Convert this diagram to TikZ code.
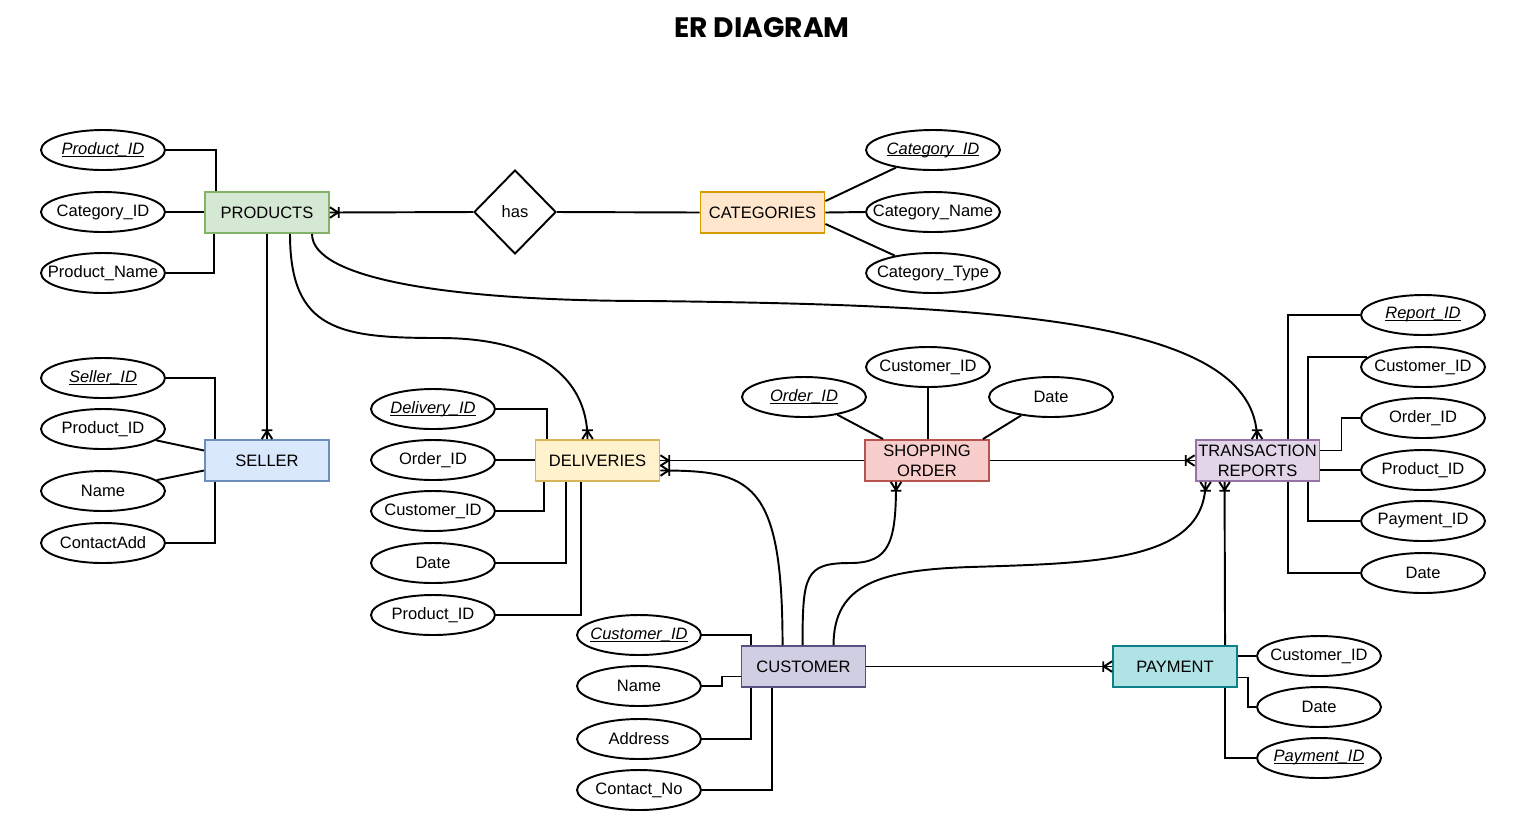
\documentclass[tikz,border=0pt]{standalone}
\usepackage{fontspec}
\setmainfont{Liberation Sans}
\newfontfamily\titlefont{Poppins}
\usetikzlibrary{shapes.geometric,calc}
\definecolor{gF}{HTML}{D5E8D4}\definecolor{gD}{HTML}{82B366}
\definecolor{oF}{HTML}{FFE6CC}\definecolor{oD}{HTML}{D79B00}
\definecolor{bF}{HTML}{DAE8FC}\definecolor{bD}{HTML}{6C8EBF}
\definecolor{yF}{HTML}{FFF2CC}\definecolor{yD}{HTML}{D6B656}
\definecolor{rF}{HTML}{F8CECC}\definecolor{rD}{HTML}{B85450}
\definecolor{pF}{HTML}{E1D5E7}\definecolor{pD}{HTML}{9673A6}
\definecolor{cF}{HTML}{D0CEE2}\definecolor{cD}{HTML}{56517E}
\definecolor{tF}{HTML}{B0E3E6}\definecolor{tD}{HTML}{0E8088}
\pgfdeclarearrow{
  name = ERmany,
  setup code = {
    \pgfarrowssettipend{0pt}
    \pgfarrowssetlineend{0pt}
    \pgfarrowssetbackend{-5pt}
    \pgfarrowssetvisualbackend{-5pt}
    \pgfarrowshullpoint{0pt}{3pt}
    \pgfarrowshullpoint{0pt}{-3pt}
    \pgfarrowshullpoint{-5pt}{0pt}
  },
  drawing code = {
    \pgfsetdash{}{0pt}
    \pgfsetmiterjoin
    \pgfpathmoveto{\pgfqpoint{0pt}{3pt}}
    \pgfpathlineto{\pgfqpoint{-4.6pt}{0pt}}
    \pgfpathlineto{\pgfqpoint{0pt}{-3pt}}
    \pgfpathmoveto{\pgfqpoint{-5pt}{3pt}}
    \pgfpathlineto{\pgfqpoint{-5pt}{-3pt}}
    \pgfusepathqstroke
  }
}
\newcommand{\A}[1]{\makebox[0pt][c]{#1}}
\newcommand{\keyattr}[1]{\makebox[0pt][c]{\itshape\setbox0\hbox{#1}\rlap{\rule[-1.3pt]{\wd0}{0.55pt}}\box0}}
\tikzset{
  ent/.style={draw, line width=1.1pt, minimum width=2.48cm, minimum height=0.82cm,
    inner sep=0pt, align=center, font=\fontsize{9.4}{11.3}\selectfont},
  att/.style={ellipse, draw, line width=1.1pt, fill=white, minimum width=2.48cm,
    minimum height=0.8cm, inner sep=0pt, font=\fontsize{9.4}{11.3}\selectfont},
  rel/.style={diamond, draw, line width=1.1pt, fill=white, minimum width=1.64cm,
    minimum height=1.68cm, inner sep=0pt, font=\fontsize{9.4}{11.3}\selectfont},
  conn/.style={line width=1.1pt},
  many/.style={conn, -ERmany}
}
\begin{document}
\begin{tikzpicture}[x=0.02cm, y=-0.02cm]
\useasboundingbox (0,0) rectangle (1533,823);
\node[font=\titlefont\bfseries\fontsize{16}{18}\selectfont] (title) at (762,28) {ER DIAGRAM};

% entities
\node[ent, fill=gF, draw=gD] (prod) at (267,212.5) {PRODUCTS};
\node[rel] (has) at (515,212) {has};
\node[ent, fill=oF, draw=oD] (cat) at (762.5,212.5) {CATEGORIES};
\node[ent, fill=bF, draw=bD] (sel) at (267,460.5) {SELLER};
\node[ent, fill=yF, draw=yD] (del) at (597.5,460.5) {DELIVERIES};
\node[ent, fill=rF, draw=rD] (so) at (927,460.5) {SHOPPING\\ORDER};
\node[ent, fill=pF, draw=pD] (tr) at (1257.5,460.5) {TRANSACTION\\REPORTS};
\node[ent, fill=cF, draw=cD] (cust) at (803.5,666.5) {CUSTOMER};
\node[ent, fill=tF, draw=tD] (pay) at (1175,666.5) {PAYMENT};

% attributes
\node[att] (p1) at (103,150) {\keyattr{Product\_ID}};
\node[att] (p2) at (103,212) {\A{Category\_ID}};
\node[att] (p3) at (103,273) {\A{Product\_Name}};
\node[att, minimum width=2.68cm] (c1) at (933,150) {\keyattr{Category\_ID}};
\node[att, minimum width=2.68cm] (c2) at (933,212) {\A{Category\_Name}};
\node[att, minimum width=2.68cm] (c3) at (933,273) {\A{Category\_Type}};
\node[att] (s1) at (103,378) {\keyattr{Seller\_ID}};
\node[att] (s2) at (103,429) {\A{Product\_ID}};
\node[att] (s3) at (103,491) {\A{Name}};
\node[att] (s4) at (103,543) {\A{ContactAdd}};
\node[att] (d1) at (433,409) {\keyattr{Delivery\_ID}};
\node[att] (d2) at (433,460) {\A{Order\_ID}};
\node[att] (d3) at (433,511) {\A{Customer\_ID}};
\node[att] (d4) at (433,563) {\A{Date}};
\node[att] (d5) at (433,615) {\A{Product\_ID}};
\node[att] (o1) at (804,397) {\keyattr{Order\_ID}};
\node[att] (o2) at (928,367) {\A{Customer\_ID}};
\node[att] (o3) at (1051,397) {\A{Date}};
\node[att] (t1) at (1423,315) {\keyattr{Report\_ID}};
\node[att] (t2) at (1423,367) {\A{Customer\_ID}};
\node[att] (t3) at (1423,418) {\A{Order\_ID}};
\node[att] (t4) at (1423,470) {\A{Product\_ID}};
\node[att] (t5) at (1423,521) {\A{Payment\_ID}};
\node[att] (t6) at (1423,573) {\A{Date}};
\node[att] (u1) at (639,635) {\keyattr{Customer\_ID}};
\node[att] (u2) at (639,686) {\A{Name}};
\node[att] (u3) at (639,739) {\A{Address}};
\node[att] (u4) at (639,790) {\A{Contact\_No}};
\node[att] (y1) at (1319,656) {\A{Customer\_ID}};
\node[att] (y2) at (1319,707) {\A{Date}};
\node[att] (y3) at (1319,758) {\keyattr{Payment\_ID}};

% attribute links
\draw[conn] (p1.east) -| ($(prod.north west)+(12,0)$);
\draw[conn] (p2.east) -- (p2.east -| prod.west);
\draw[conn] (p3.east) -| ($(prod.south west)+(10,0)$);
\draw[conn] ($(cat.north east)+(0,10)$) -- (c1);
\draw[conn] (cat.east) -- (c2.west);
\draw[conn] ($(cat.south east)+(0,-10)$) -- (c3);
\draw[conn] (s1.east) -| ($(sel.north west)+(11,0)$);
\draw[conn] ($(sel.west)+(0,-10)$) -- (s2);
\draw[conn] ($(sel.west)+(0,10)$) -- (s3);
\draw[conn] (s4.east) -| ($(sel.south west)+(11,0)$);
\draw[conn] (d1.east) -| ($(del.north west)+(12,0)$);
\draw[conn] (d2.east) -- (d2.east -| del.west);
\draw[conn] (d3.east) -| ($(del.south west)+(9,0)$);
\draw[conn] (d4.east) -| ($(del.south west)+(31,0)$);
\draw[conn] (d5.east) -| ($(del.south west)+(46,0)$);
\draw[conn] ($(so.north west)+(19,0)$) -- (o1);
\draw[conn] (o2.south) -- (o2.south |- so.north);
\draw[conn] ($(so.north east)+(-7,0)$) -- (o3);
\draw[conn] ($(tr.north west)+(93,0)$) |- (t1.west);
\draw[conn] ($(tr.north west)+(113,0)$) |- (t2.170);
\draw[conn] ($(tr.east)+(0,-10)$) -- ($(tr.east)+(21,-10)$) |- (t3.west);
\draw[conn] (t4.west) -- (t4.west -| tr.east);
\draw[conn] ($(tr.south west)+(113,0)$) |- (t5.west);
\draw[conn] ($(tr.south west)+(93,0)$) |- (t6.west);
\draw[conn] (u1.east) -| ($(cust.north west)+(10,0)$);
\draw[conn] (u2.east) -- ++(20,0) |- ($(cust.west)+(0,10)$);
\draw[conn] (u3.east) -| ($(cust.south west)+(10,0)$);
\draw[conn] (u4.east) -| ($(cust.south west)+(31,0)$);
\draw[conn] (y1.west) -- (y1.west -| pay.east);
\draw[conn] ($(pay.east)+(0,11)$) -- ++(10,0) |- (y2.west);
\draw[conn] ($(pay.south west)+(113,0)$) |- (y3.west);

% relationships
\draw[many] (has.west) -- (prod.east);
\draw[conn] (has.east) -- (cat.west);
\draw[many] (prod.south) -- (sel.north);
\draw[many] ($(prod.south)+(23,0)$) .. controls +(0,97) and +(-100,0) .. (440,338)
  .. controls +(100,0) and +(0,-60) .. ($(del.north)+(-10,0)$);
\draw[many] ($(prod.south)+(45,0)$) .. controls +(0,45) and +(-200,0) .. (650,301)
  .. controls +(350,4) and +(0,-120) .. ($(tr.north)+(-0.5,0)$);
\draw[many] (so.west) -- (del.east);
\draw[many] (so.east) -- (tr.west);
\draw[many] ($(cust.north west)+(42,0)$) .. controls +(0,-165) and +(90,0) .. ($(del.east)+(0,10)$);
\draw[many] ($(cust.north west)+(62,0)$) .. controls +(0,-70) and +(-45,0) .. (850,563)
  .. controls +(40,0) and +(0,60) .. ($(so.south west)+(32,0)$);
\draw[many] ($(cust.north west)+(93,0)$) .. controls +(0,-61) and +(-90,3) .. (970,567)
  .. controls +(130,-4) and +(0,79) .. ($(tr.south west)+(11,0)$);
\draw[many] (cust.east) -- (pay.west);
\draw[many] ($(pay.north west)+(113,0)$) -- ($(tr.south west)+(30,0)$);
\end{tikzpicture}
\end{document}
